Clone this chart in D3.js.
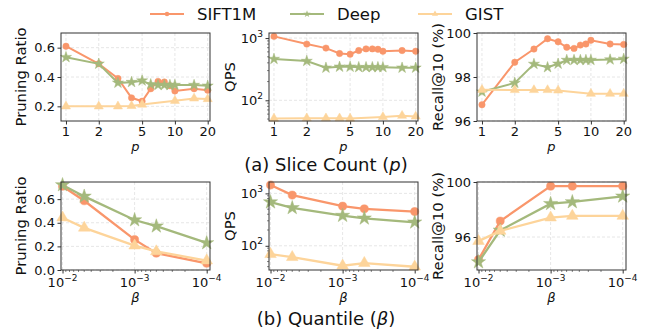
<!DOCTYPE html>
<html>
<head>
<meta charset="utf-8">
<script src="https://cdn.jsdelivr.net/npm/d3@7"></script>
<style>
  body { margin: 0; background: #fff; }
  svg { display: block; font-family: "DejaVu Sans", sans-serif; }
</style>
</head>
<body>
<svg id="chart" width="651" height="330"></svg>
<script>
// ---------- DATA ----------
const seriesNames = ["SIFT1M", "Deep", "GIST"];
const seriesColors = ["#F9966B", "#A4B97C", "#FDD49A"];

const sliceP = [1, 2, 3, 4, 5, 6, 7, 8, 9, 10, 15, 20];
const sliceGistP = [1, 2, 3, 4, 5, 10, 15, 20];
const sliceTicks = [1, 2, 5, 10, 20];

const prSliceSift = [0.61, 0.49, 0.39, 0.258, 0.235, 0.32, 0.37, 0.366, 0.34, 0.305, 0.32, 0.31];
const prSliceDeep = [0.535, 0.49, 0.36, 0.365, 0.375, 0.35, 0.345, 0.345, 0.345, 0.345, 0.345, 0.34];
const prSliceGist = [0.2, 0.2, 0.2, 0.203, 0.212, 0.238, 0.254, 0.25];

const qpsSliceSift = [1065, 800, 690, 565, 550, 630, 670, 670, 660, 615, 630, 615];
const qpsSliceDeep = [460, 427, 333, 345, 345, 340, 340, 340, 340, 340, 333, 333];
const qpsSliceGist = [51, 51.5, 51.5, 51.5, 51, 54, 56.5, 55];

const recSliceSift = [96.74, 98.67, 99.27, 99.74, 99.6, 99.35, 99.3, 99.45, 99.5, 99.67, 99.5, 99.48];
const recSliceDeep = [97.33, 97.73, 98.59, 98.44, 98.6, 98.77, 98.77, 98.77, 98.77, 98.77, 98.79, 98.82];
const recSliceGist = [97.42, 97.41, 97.41, 97.41, 97.39, 97.24, 97.24, 97.24];

const betaVals = [0.01, 0.005, 0.001, 0.0005, 0.0001];
const betaTicks = [1e-2, 1e-3, 1e-4];

const prBetaSift = [0.709, 0.586, 0.257, 0.143, 0.057];
const prBetaDeep = [0.72, 0.623, 0.423, 0.371, 0.229];
const prBetaGist = [0.443, 0.357, 0.206, 0.157, 0.08];

const qpsBetaSift = [1446, 929, 571, 507, 450];
const qpsBetaDeep = [681, 530, 377, 335, 281];
const qpsBetaGist = [69, 60.5, 41.6, 46.7, 39.8];

const recBetaSift = [94.35, 97.16, 99.7, 99.7, 99.7];
const recBetaDeep = [94.18, 96.48, 98.42, 98.55, 98.96];
const recBetaGist = [95.7, 96.44, 97.41, 97.53, 97.53];

const captions = ["(a) Slice Count (", "(b) Quantile ("];

// ---------- LAYOUT ----------
const svg = d3.select("#chart");
const cols = [[61, 210], [269, 418], [477, 626]];
const rows = [[33, 121], [182, 270]];
const symbols = [d3.symbolCircle, d3.symbolStar, d3.symbolTriangle];

function supLabel(sel, base, exp) {
  sel.append("tspan").text(base);
  sel.append("tspan").attr("dy", -6).attr("font-size", "9px").text(exp);
}

function panel(opt) {
  const [x0, x1] = cols[opt.col];
  const [y0, y1] = rows[opt.row];
  const g = svg.append("g");
  const x = d3.scaleLog().domain(opt.xDomain).range([x0, x1]);
  const y = (opt.yLog ? d3.scaleLog() : d3.scaleLinear()).domain(opt.yDomain).range([y1, y0]);

  // grid
  g.selectAll(".gx").data(opt.xTicks).enter().append("line")
    .attr("x1", d => x(d)).attr("x2", d => x(d)).attr("y1", y0).attr("y2", y1)
    .attr("stroke", "#e0e0e0").attr("stroke-width", 0.8).attr("stroke-dasharray", "3,2");
  g.selectAll(".gy").data(opt.yTicks).enter().append("line")
    .attr("x1", x0).attr("x2", x1).attr("y1", d => y(d)).attr("y2", d => y(d))
    .attr("stroke", "#e0e0e0").attr("stroke-width", 0.8).attr("stroke-dasharray", "3,2");

  // x axis
  const xa = g.append("g").attr("transform", `translate(0,${y1})`)
    .call(d3.axisBottom(x).tickValues(opt.xTicks).tickSize(3.5).tickPadding(3).tickFormat(""));
  xa.select(".domain").remove();
  xa.selectAll(".tick line").attr("stroke", "#333");
  if (opt.xMinor) {
    g.selectAll(".mx").data(opt.xMinor).enter().append("line")
      .attr("x1", d => x(d)).attr("x2", d => x(d)).attr("y1", y1).attr("y2", y1 + 2)
      .attr("stroke", "#333").attr("stroke-width", 0.6);
  }
  opt.xTicks.forEach(t => {
    const txt = g.append("text").attr("x", x(t)).attr("y", y1 + (opt.xSup ? 16.5 : 15))
      .attr("text-anchor", "middle").attr("font-size", "13px").attr("fill", "#111");
    if (opt.xSup) supLabel(txt, "10", "−" + Math.round(-Math.log10(t)));
    else txt.text(t);
  });

  // y axis
  const ya = g.append("g").attr("transform", `translate(${x0},0)`)
    .call(d3.axisLeft(y).tickValues(opt.yTicks).tickSize(3.5).tickFormat(""));
  ya.select(".domain").remove();
  ya.selectAll(".tick line").attr("stroke", "#333");
  if (opt.yLog) {
    const minor = [];
    for (let e = 1; e <= 3; e++) for (let k = 2; k <= 9; k++) {
      const v = k * Math.pow(10, e);
      if (v > opt.yDomain[0] && v < opt.yDomain[1]) minor.push(v);
    }
    g.selectAll(".my").data(minor).enter().append("line")
      .attr("x1", x0 - 2).attr("x2", x0).attr("y1", d => y(d)).attr("y2", d => y(d))
      .attr("stroke", "#333").attr("stroke-width", 0.6);
  }
  opt.yTicks.forEach(t => {
    const txt = g.append("text").attr("x", x0 - 6).attr("y", y(t) + 4.5)
      .attr("text-anchor", "end").attr("font-size", "13px").attr("fill", "#111");
    if (opt.yLog) supLabel(txt, "10", String(Math.round(Math.log10(t))));
    else txt.text(opt.yFmt(t));
  });

  // y label
  g.append("text")
    .attr("transform", `translate(${opt.ylabX},${(y0 + y1) / 2}) rotate(-90)`)
    .attr("text-anchor", "middle").attr("font-size", "14.8px").attr("fill", "#111")
    .text(opt.ylabel);

  // x label
  g.append("text").attr("x", (x0 + x1) / 2).attr("y", opt.xlabY)
    .attr("text-anchor", "middle").attr("font-size", "13px").attr("font-style", "italic")
    .attr("fill", "#111").text(opt.xlabel);

  // series
  const line = d3.line().x(d => x(d[0])).y(d => y(d[1]));
  opt.series.forEach((s, i) => {
    const pts = s.xs.map((v, j) => [v, s.ys[j]]);
    g.append("path").datum(pts).attr("d", line)
      .attr("fill", "none").attr("stroke", seriesColors[i]).attr("stroke-width", opt.lw);
    g.selectAll(null).data(pts).enter().append("path")
      .attr("transform", d => `translate(${x(d[0])},${y(d[1])})`)
      .attr("d", d3.symbol().type(symbols[i]).size(opt.msize[i]))
      .attr("fill", seriesColors[i]).attr("stroke", seriesColors[i]).attr("stroke-width", 0.5);
  });

  // frame
  g.append("rect").attr("x", x0).attr("y", y0).attr("width", x1 - x0).attr("height", y1 - y0)
    .attr("fill", "none").attr("stroke", "#333").attr("stroke-width", 1);
}

const topMs = [32, 38, 36];
const botMs = [52, 62, 58];
const betaMinor = [];
for (let e = -4; e <= -3; e++) for (let k = 2; k <= 9; k++) betaMinor.push(k * Math.pow(10, e));

const sliceDomain = [0.9, 21];
const betaDomain = [0.0105, 0.00009];

// top row
panel({ col: 0, row: 0, xDomain: sliceDomain, xTicks: sliceTicks, yDomain: [0.1, 0.7], yTicks: [0.2, 0.4, 0.6],
  yFmt: d3.format(".1f"), ylabel: "Pruning Ratio", ylabX: 26, xlabel: "p", xlabY: 151, lw: 2, msize: topMs,
  series: [{ xs: sliceP, ys: prSliceSift }, { xs: sliceP, ys: prSliceDeep }, { xs: sliceGistP, ys: prSliceGist }] });
panel({ col: 1, row: 0, xDomain: sliceDomain, xTicks: sliceTicks, yLog: true, yDomain: [46.5, 1206], yTicks: [100, 1000],
  ylabel: "QPS", ylabX: 235, xlabel: "p", xlabY: 151, lw: 2, msize: topMs,
  series: [{ xs: sliceP, ys: qpsSliceSift }, { xs: sliceP, ys: qpsSliceDeep }, { xs: sliceGistP, ys: qpsSliceGist }] });
panel({ col: 2, row: 0, xDomain: sliceDomain, xTicks: sliceTicks, yDomain: [96, 100], yTicks: [96, 98, 100],
  yFmt: d3.format("d"), ylabel: "Recall@10 (%)", ylabX: 443, xlabel: "p", xlabY: 151, lw: 2, msize: topMs,
  series: [{ xs: sliceP, ys: recSliceSift }, { xs: sliceP, ys: recSliceDeep }, { xs: sliceGistP, ys: recSliceGist }] });

// bottom row
panel({ col: 0, row: 1, xDomain: betaDomain, xTicks: betaTicks, xSup: true, xMinor: betaMinor, yDomain: [0, 0.745],
  yTicks: [0, 0.2, 0.4, 0.6], yFmt: d3.format(".1f"), ylabel: "Pruning Ratio", ylabX: 26, xlabel: "β", xlabY: 302,
  lw: 2.3, msize: botMs,
  series: [{ xs: betaVals, ys: prBetaSift }, { xs: betaVals, ys: prBetaDeep }, { xs: betaVals, ys: prBetaGist }] });
panel({ col: 1, row: 1, xDomain: betaDomain, xTicks: betaTicks, xSup: true, xMinor: betaMinor, yLog: true,
  yDomain: [34.5, 1650], yTicks: [100, 1000], ylabel: "QPS", ylabX: 235, xlabel: "β", xlabY: 302,
  lw: 2.3, msize: botMs,
  series: [{ xs: betaVals, ys: qpsBetaSift }, { xs: betaVals, ys: qpsBetaDeep }, { xs: betaVals, ys: qpsBetaGist }] });
panel({ col: 2, row: 1, xDomain: betaDomain, xTicks: betaTicks, xSup: true, xMinor: betaMinor, yDomain: [93.6, 100],
  yTicks: [96, 100], yFmt: d3.format("d"), ylabel: "Recall@10 (%)", ylabX: 443, xlabel: "β", xlabY: 302,
  lw: 2.3, msize: botMs,
  series: [{ xs: betaVals, ys: recBetaSift }, { xs: betaVals, ys: recBetaDeep }, { xs: betaVals, ys: recBetaGist }] });

// captions
[[171, captions[0], "p"], [325, captions[1], "β"]].forEach(([yy, pre, v]) => {
  const t = svg.append("text").attr("x", 326).attr("y", yy).attr("text-anchor", "middle")
    .attr("font-size", "18px").attr("fill", "#111");
  t.append("tspan").text(pre);
  t.append("tspan").attr("font-style", "italic").text(v);
  t.append("tspan").text(")");
});

// legend
const legX = [150, 290, 418];
seriesNames.forEach((name, i) => {
  const lg = svg.append("g");
  lg.append("line").attr("x1", legX[i]).attr("x2", legX[i] + 34).attr("y1", 14).attr("y2", 14)
    .attr("stroke", seriesColors[i]).attr("stroke-width", 2);
  lg.append("path").attr("transform", `translate(${legX[i] + 17},14)`)
    .attr("d", d3.symbol().type(symbols[i]).size(16)).attr("fill", seriesColors[i]);
  lg.append("text").attr("x", legX[i] + 47).attr("y", 20).attr("font-size", "16.5px")
    .attr("fill", "#111").text(name);
});
</script>
</body>
</html>
